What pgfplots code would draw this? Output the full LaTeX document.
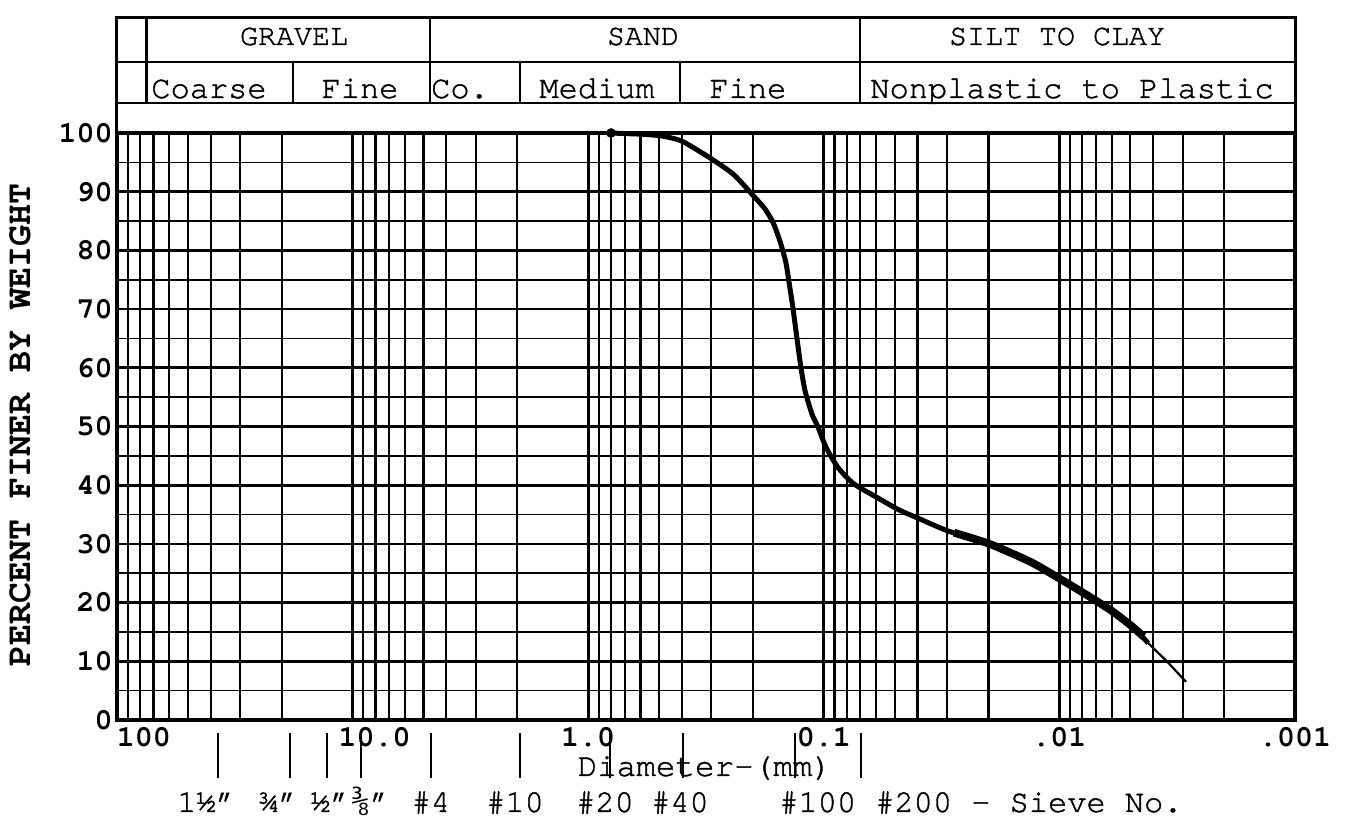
\documentclass[border=0pt]{standalone}
\usepackage{fontspec}
\setmainfont{texgyrecursor-regular.otf}[UprightFeatures={FakeBold=1.3}, BoldFont=texgyrecursor-bold.otf]
\newfontfamily\djm{DejaVu Sans Mono}
\usepackage{pgfplots}
\pgfplotsset{compat=1.18}
\newcommand{\fs}{\fontsize{15}{18}\selectfont}
\newcommand{\fsb}{\fontsize{16}{19}\selectfont}
\begin{document}
\begin{tikzpicture}
\begin{axis}[
  scale only axis, width=589pt, height=293.5pt,
  xmode=log, x dir=reverse, xmin=0.001, xmax=100,
  ymin=0, ymax=100,
  ytick={0,10,...,100}, minor ytick={5,15,...,95},
  xtick={100,10,1,0.1,0.01,0.001},
  minor xtick={0.002,0.003,0.004,0.005,0.006,0.007,0.008,0.009,
    0.02,0.03,0.04,0.05,0.06,0.07,0.08,0.09,
    0.2,0.3,0.4,0.5,0.6,0.7,0.8,0.9,
    2,3,4,5,6,7,8,9,20,30,40,50,60,70,80,90},
  xticklabels={\makebox[0pt][l]{100},\makebox[0pt][l]{\hspace*{-7pt}10.0},1.0,0.1,.01,.001},
  /pgf/number format/assume math mode=true,
  xmajorgrids, xminorgrids, ymajorgrids, yminorgrids,
  major x grid style={line width=1.4pt,black},
  minor x grid style={line width=1.1pt,black},
  major y grid style={line width=1.35pt,black},
  minor y grid style={line width=0.8pt,black},
  axis line style={line width=1.8pt},
  major tick length=0pt, minor tick length=0pt,
  clip=false,
  tick label style={font=\fs\bfseries},
  yticklabel style={inner sep=2pt},
]
% header frame
\draw[line width=1.5pt] (axis cs:100,100) -- (axis cs:100,119.6) -- (axis cs:0.001,119.6) -- (axis cs:0.001,100);
\draw[line width=1.3pt] (axis cs:100,105.1) -- (axis cs:0.001,105.1);
\draw[line width=1.3pt] (axis cs:100,112.1) -- (axis cs:0.001,112.1);
\draw[line width=1.3pt] (axis cs:75,105.1) -- (axis cs:75,119.6);
\draw[line width=1.3pt] (axis cs:4.7,105.1) -- (axis cs:4.7,119.6);
\draw[line width=1.3pt] (axis cs:0.0702,105.1) -- (axis cs:0.0702,119.6);
\draw[line width=1.3pt] (axis cs:17.9,105.1) -- (axis cs:17.9,112.1);
\draw[line width=1.3pt] (axis cs:1.95,105.1) -- (axis cs:1.95,112.1);
\draw[line width=1.3pt] (axis cs:0.407,105.1) -- (axis cs:0.407,112.1);
% header text
\node[anchor=base,font=\fs] at (axis description cs:0.1503,1.150) {GRAVEL};
\node[anchor=base,font=\fs] at (axis description cs:0.4465,1.150) {SAND};
\node[anchor=base,font=\fs] at (axis description cs:0.7980,1.150) {SILT TO CLAY};
\node[anchor=base,font=\fsb] at (axis description cs:0.0781,1.0596) {Coarse};
\node[anchor=base,font=\fsb] at (axis description cs:0.2063,1.0596) {Fine};
\node[anchor=base,font=\fsb] at (axis description cs:0.2912,1.0596) {Co.};
\node[anchor=base,font=\fsb] at (axis description cs:0.4075,1.0596) {Medium};
\node[anchor=base,font=\fsb] at (axis description cs:0.5356,1.0596) {Fine};
\node[anchor=base,font=\fsb] at (axis description cs:0.8107,1.0596) {Nonplastic to Plastic};
% axis labels
\node[rotate=90,anchor=center,font=\fontsize{17.5}{20}\selectfont\bfseries] at (axis description cs:-0.0823,0.5026) {PERCENT FINER BY WEIGHT};
\node[anchor=base,font=\fontsize{16.3}{19}\selectfont] at (axis description cs:0.499,-0.0954) {Diameter-(mm)};
% sieve ticks
\draw[line width=1.4pt] (axis cs:37.27,-2.2) -- (axis cs:37.27,-9.9);
\draw[line width=1.4pt] (axis cs:18.43,-2.2) -- (axis cs:18.43,-9.9);
\draw[line width=1.4pt] (axis cs:12.84,-2.2) -- (axis cs:12.84,-9.9);
\draw[line width=1.4pt] (axis cs:9.21,-2.2) -- (axis cs:9.21,-9.9);
\draw[line width=1.4pt] (axis cs:4.65,-2.2) -- (axis cs:4.65,-9.9);
\draw[line width=1.4pt] (axis cs:1.948,-2.2) -- (axis cs:1.948,-9.9);
\draw[line width=1.4pt] (axis cs:0.808,-2.2) -- (axis cs:0.808,-9.9);
\draw[line width=1.4pt] (axis cs:0.396,-2.2) -- (axis cs:0.396,-9.9);
\draw[line width=1.4pt] (axis cs:0.1325,-2.2) -- (axis cs:0.1325,-9.9);
\draw[line width=1.4pt] (axis cs:0.0695,-2.2) -- (axis cs:0.0695,-9.9);
% sieve labels
\node[anchor=base,font=\fsb] at (axis description cs:0.0756,-0.1567) {1½"};
\node[anchor=base,font=\fsb] at (axis description cs:0.1367,-0.1567) {¾"};
\node[anchor=base,font=\fsb] at (axis description cs:0.1808,-0.1567) {½"};
\node[anchor=base,font=\fsb] at (axis description cs:0.2150,-0.1567) {{\djm\fontsize{15}{18}\selectfont ⅜}"};
\node[anchor=base,font=\fsb] at (axis description cs:0.2665,-0.1567) {\#4};
\node[anchor=base,font=\fsb] at (axis description cs:0.3379,-0.1567) {\#10};
\node[anchor=base,font=\fsb] at (axis description cs:0.4143,-0.1567) {\#20};
\node[anchor=base,font=\fsb] at (axis description cs:0.4779,-0.1567) {\#40};
\node[anchor=base west,font=\fsb,inner sep=0pt] at (axis description cs:0.5619,-0.1567) {\#100 \#200 - Sieve No.};
% grain size curve
\addplot[line width=2.5pt, smooth, tension=0.4] coordinates {
(0.80,100) (0.70,99.9) (0.60,99.8) (0.49,99.5) (0.40,98.6) (0.30,95.6)
(0.241,92.9) (0.20,89.4) (0.178,87.1) (0.164,84.7) (0.153,81.4) (0.145,78)
(0.141,75) (0.135,70) (0.130,65) (0.125,60) (0.120,56) (0.112,52) (0.106,50)
(0.0977,46.4) (0.087,43) (0.075,40.3) (0.060,38.0) (0.048,35.8) (0.0394,34.3)
(0.0297,32.2) (0.0198,30) (0.0132,26.9) (0.010,24.1) (0.0078,21.5)
(0.0060,18.6) (0.0049,15.9) (0.0042,13.1)
};
\addplot[line width=3.9pt, smooth, tension=0.4] coordinates {
(0.028,31.9) (0.0198,30) (0.0132,26.9) (0.010,24.1) (0.0078,21.5)
(0.0060,18.6) (0.0049,15.9) (0.0044,14.2)
};
\addplot[line width=1.1pt] coordinates {(0.0042,13.1) (0.0035,10) (0.0029,6.5)};
\addplot[only marks, mark=*, mark size=2.2pt] coordinates {(0.8,100)};
\end{axis}
\pgfresetboundingbox
\path (-58.5pt,-51pt) rectangle (615pt,360pt);
\end{tikzpicture}
\end{document}
